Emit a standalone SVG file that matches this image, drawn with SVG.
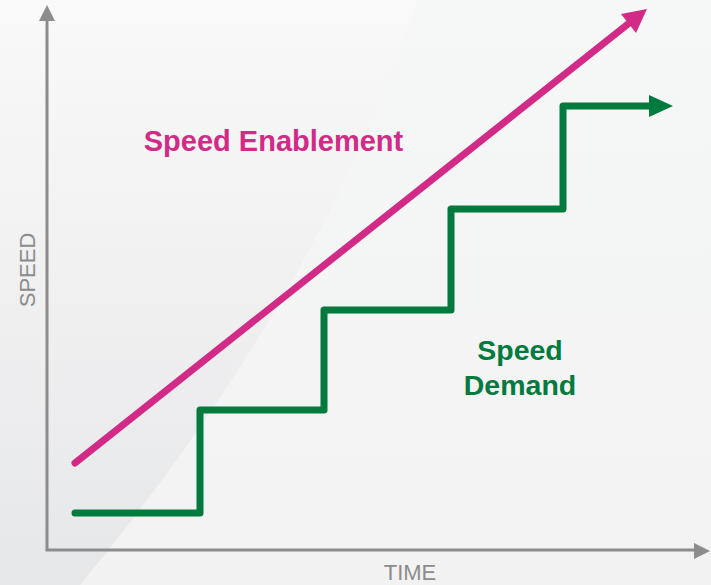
<svg xmlns="http://www.w3.org/2000/svg" width="711" height="585" viewBox="0 0 711 585">
  <defs>
    <linearGradient id="bgR" x1="0" y1="0" x2="0" y2="1">
      <stop offset="0" stop-color="#f6f7f7"/>
      <stop offset="1" stop-color="#f2f2f2"/>
    </linearGradient>
    <linearGradient id="bgL" x1="0" y1="0" x2="0" y2="1">
      <stop offset="0" stop-color="#f9f9f9"/>
      <stop offset="0.5" stop-color="#f0f0f1"/>
      <stop offset="1" stop-color="#e6e7e9"/>
    </linearGradient>
    <style>
      .axis { stroke: #8c8c8c; stroke-width: 3; fill: none; }
      .axhead { fill: #8c8c8c; }
      .axlabel { font-family: "Liberation Sans", Arial, sans-serif; font-size: 22px; fill: #8c8c8c; }
      .lbl { font-family: "Liberation Sans", Arial, sans-serif; font-weight: bold; }
    </style>
  </defs>

  <g id="background">
    <rect x="0" y="0" width="711" height="585" fill="url(#bgR)"/>
    <path d="M0,0 L417,0 Q325,288 80,585 L0,585 Z" fill="url(#bgL)"/>
  </g>

  <g id="axes">
    <line class="axis" x1="47" y1="18" x2="47" y2="550"/>
    <line class="axis" x1="45.5" y1="550" x2="696" y2="550"/>
    <polygon class="axhead" points="47,5 39,21 55,21"/>
    <polygon class="axhead" points="710,551 694,543 694,559"/>
    <text class="axlabel" x="410" y="580" text-anchor="middle">TIME</text>
    <text class="axlabel" x="35" y="270" text-anchor="middle" transform="rotate(-90 35 270)">SPEED</text>
  </g>

  <g id="connectors">
    <g id="speed-enablement-line">
      <line x1="75" y1="463" x2="628" y2="24" stroke="#d22b87" stroke-width="7" stroke-linecap="round"/>
      <polygon points="647,9 621,14 636,33" fill="#d22b87"/>
    </g>
    <g id="speed-demand-line">
      <path d="M75,513 H200 V410 H324 V310 H451 V209 H563 V106 H651" fill="none" stroke="#007a3d" stroke-width="7" stroke-linecap="round" stroke-linejoin="round"/>
      <polygon points="673,106 649,95 649,117" fill="#007a3d"/>
    </g>
  </g>

  <g id="label-enablement">
    <text class="lbl" x="273.5" y="151" text-anchor="middle" font-size="29" fill="#d22b87">Speed Enablement</text>
  </g>
  <g id="label-demand">
    <text class="lbl" x="520" y="360" text-anchor="middle" font-size="28.5" fill="#007a3d">Speed</text>
    <text class="lbl" x="520" y="395" text-anchor="middle" font-size="28.5" fill="#007a3d">Demand</text>
  </g>
</svg>
